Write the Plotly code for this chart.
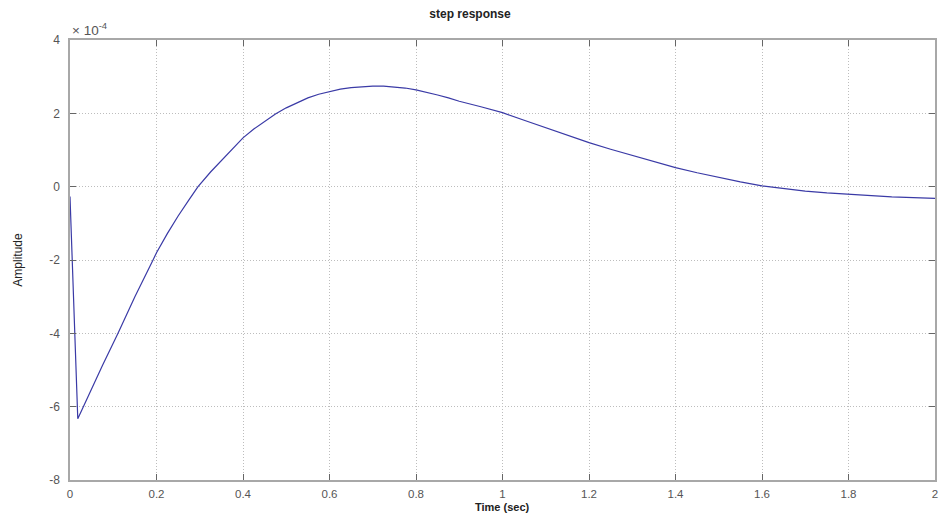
import plotly.graph_objects as go

# Step response samples (amplitude in units of 1e-4)
time_s = [0.0, 0.004, 0.018, 0.029, 0.05, 0.075, 0.111, 0.15, 0.192, 0.2, 0.225,
          0.25, 0.275, 0.296, 0.325, 0.35, 0.375, 0.4, 0.425, 0.45, 0.475, 0.5,
          0.525, 0.55, 0.575, 0.6, 0.625, 0.65, 0.675, 0.7, 0.725, 0.75, 0.775,
          0.8, 0.825, 0.85, 0.875, 0.9, 0.95, 1.0, 1.05, 1.1, 1.15, 1.2, 1.25,
          1.3, 1.35, 1.4, 1.45, 1.5, 1.55, 1.6, 1.65, 1.7, 1.75, 1.8, 1.85,
          1.9, 1.95, 2.0]
amplitude_e4 = [-0.27, -1.5, -6.33, -6.05, -5.5, -4.88, -4.0, -3.0, -2.0, -1.8, -1.28,
                -0.8, -0.36, 0.0, 0.4, 0.72, 1.04, 1.33, 1.57, 1.78, 1.98, 2.15,
                2.29, 2.42, 2.52, 2.6, 2.66, 2.7, 2.73, 2.74, 2.74, 2.72, 2.69,
                2.64, 2.58, 2.5, 2.42, 2.33, 2.18, 2.02, 1.81, 1.6, 1.4, 1.2, 1.02,
                0.85, 0.68, 0.52, 0.38, 0.25, 0.13, 0.02, -0.06, -0.12, -0.17,
                -0.21, -0.25, -0.28, -0.3, -0.32]

x_ticks = [0, 0.2, 0.4, 0.6, 0.8, 1, 1.2, 1.4, 1.6, 1.8, 2]
x_tick_text = ["0", "0.2", "0.4", "0.6", "0.8", "1", "1.2", "1.4", "1.6", "1.8", "2"]
y_ticks = [-8, -6, -4, -2, 0, 2, 4]
y_tick_text = ["-8", "-6", "-4", "-2", "0", "2", "4"]

FONT = "Liberation Sans, Arial, sans-serif"
AXIS_GRAY = "#a8a8a8"
TEXT_GRAY = "#555555"

fig = go.Figure()
fig.add_trace(go.Scatter(
    x=time_s, y=amplitude_e4, mode="lines",
    line=dict(color="#3a3aa6", width=1.2),
    showlegend=False, hoverinfo="skip",
))

axis_common = dict(
    showline=True, linecolor=AXIS_GRAY, linewidth=1.5, mirror="ticks",
    ticks="inside", ticklen=6, tickcolor="#666666", tickwidth=1,
    showgrid=True, gridcolor="#bdbdbd", griddash="1px,2px", gridwidth=1,
    zeroline=False,
    tickfont=dict(family=FONT, size=12, color=TEXT_GRAY),
)

fig.update_layout(
    width=940, height=514,
    margin=dict(l=70, r=3, t=40, b=34),
    paper_bgcolor="white", plot_bgcolor="white",
    title=dict(text="<b>step response</b>", x=0.5, xanchor="center",
               y=1 - 14 / 514, yanchor="middle",
               font=dict(family=FONT, size=12, color="#222222")),
    xaxis=dict(range=[0, 2], tickvals=x_ticks, ticktext=x_tick_text,
               ticklabelstandoff=2,
               **{**axis_common,
                  "tickfont": dict(family=FONT, size=11.5, color=TEXT_GRAY)}),
    yaxis=dict(range=[-8, 4], tickvals=y_ticks, ticktext=y_tick_text,
               ticklabelstandoff=6,
               title=dict(text="Amplitude", standoff=24,
                          font=dict(family="Liberation Sans Narrow, " + FONT,
                                    size=12, color="#222222")),
               **axis_common),
)

# x-axis title placed just under the tick labels
fig.add_annotation(
    text="<b>Time (sec)</b>", xref="paper", yref="paper",
    x=0.5, y=0, xanchor="center", yanchor="top", yshift=-19,
    showarrow=False, font=dict(family=FONT, size=11, color="#222222"),
)

# exponent multiplier above the y axis
fig.add_annotation(
    text="× 10<sup>-4</sup>", xref="paper", yref="paper",
    x=0, y=1, xanchor="left", yanchor="bottom", yshift=0,
    showarrow=False, font=dict(family=FONT, size=13.5, color=TEXT_GRAY),
)

fig.write_html("out.html")
